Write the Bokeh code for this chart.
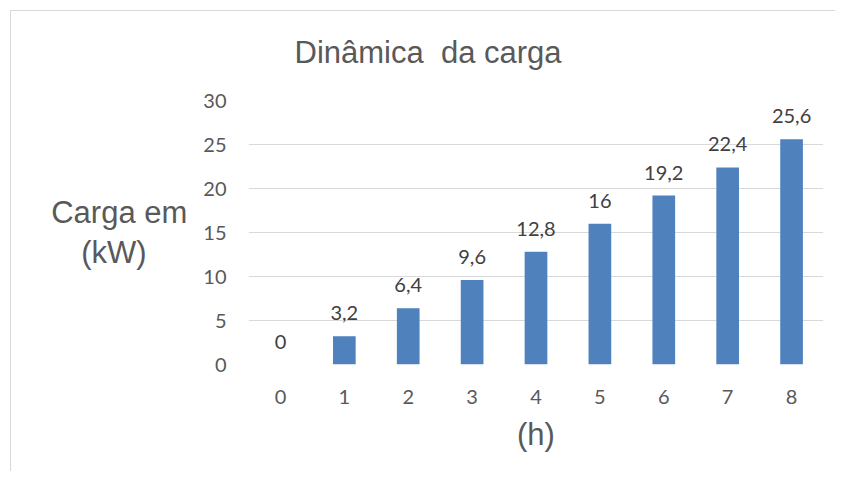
from bokeh.plotting import figure
from bokeh.models import ColumnDataSource, FixedTicker, Range1d, Title, InlineStyleSheet
from bokeh.core.properties import value
from bokeh.embed import file_html
from bokeh.resources import INLINE

hours = [0, 1, 2, 3, 4, 5, 6, 7, 8]
load_kw = [0, 3.2, 6.4, 9.6, 12.8, 16, 19.2, 22.4, 25.6]
value_labels = ["0", "3,2", "6,4", "9,6", "12,8", "16", "19,2", "22,4", "25,6"]
y_ticks = [0, 5, 10, 15, 20, 25, 30]
title_text = "Dinâmica\u00a0 da carga"
y_label_text = "Carga em\n(kW)\u00a0\u00a0\u00a0\u00a0\u2009"
x_label_text = "(h)"

TICK_FONT = "Lato"
LABEL_FONT = "Liberation Sans"
GRAY = "#595959"

src = ColumnDataSource(dict(x=hours, y=load_kw, lab=value_labels))

p = figure(width=835, height=471, output_backend="svg", toolbar_location=None,
           x_range=Range1d(-0.5, 8.5), y_range=Range1d(0, 30),
           min_border_left=248, min_border_right=12, min_border_top=100,
           min_border_bottom=107)
p.outline_line_color = None
p.background_fill_color = "white"
p.border_fill_color = "white"

p.title = Title(text=title_text, align="left", offset=46, standoff=62,
                text_font=LABEL_FONT, text_font_size="31px",
                text_font_style="normal", text_color=GRAY)

p.vbar(x="x", top="y", width=0.355, source=src, fill_color="#4F81BD",
       line_color=None)
p.text(x="x", y="y", text="lab", source=src, text_align="center",
       text_baseline="alphabetic", y_offset=-23, text_font=value(TICK_FONT),
       text_font_size="20px", text_color="#404040")

p.xaxis.ticker = FixedTicker(ticks=hours)
p.yaxis.ticker = FixedTicker(ticks=y_ticks)
for ax in (p.xaxis, p.yaxis):
    ax.axis_line_color = None
    ax.major_tick_line_color = None
    ax.minor_tick_line_color = None
    ax.major_tick_in = 0
    ax.major_tick_out = 0
    ax.major_label_text_font = TICK_FONT
    ax.major_label_text_font_size = "20px"
    ax.major_label_text_color = GRAY
    ax.axis_label_text_font = LABEL_FONT
    ax.axis_label_text_font_size = "31px"
    ax.axis_label_text_font_style = "normal"
    ax.axis_label_text_color = GRAY
p.yaxis.major_label_standoff = 22
p.xaxis.major_label_standoff = 25

p.xaxis.axis_label = x_label_text
p.xaxis.axis_label_standoff = 10
p.yaxis.axis_label = y_label_text
p.yaxis.axis_label_standoff = 13
p.yaxis.axis_label_text_align = "center"
p.yaxis.axis_label_text_line_height = 1.13
try:
    p.yaxis.axis_label_orientation = "horizontal"
except Exception:
    pass

p.xgrid.grid_line_color = None
p.ygrid.grid_line_color = "#d9d9d9"
p.ygrid.grid_line_width = 1.2

# light border of the chart area (as in the original chart box)
p.stylesheets = [InlineStyleSheet(css="""
:host { position: relative; overflow: hidden; }
:host::after { content: ''; position: absolute; left: 10px; top: 10px;
  width: 900px; height: 600px; border: 1.5px solid #d9d9d9; pointer-events: none; }
""")]

open("out.html", "w").write(file_html(p, INLINE))
